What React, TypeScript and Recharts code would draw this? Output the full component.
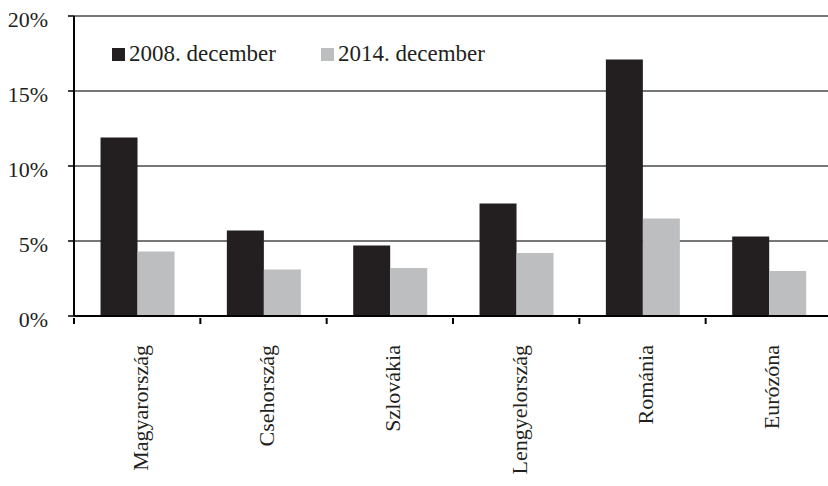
import React from "react";
import {
  BarChart,
  Bar,
  XAxis,
  YAxis,
  CartesianGrid,
} from "recharts";

const countries = [
  "Magyarország",
  "Csehország",
  "Szlovákia",
  "Lengyelország",
  "Románia",
  "Eurózóna",
];
const dec2008 = [11.9, 5.7, 4.7, 7.5, 17.1, 5.3];
const dec2014 = [4.3, 3.1, 3.2, 4.2, 6.5, 3.0];
const yTicks = [0, 5, 10, 15, 20];

const data = countries.map((name, i) => ({
  name,
  d2008: dec2008[i],
  d2014: dec2014[i],
}));

const FONT = "'Liberation Serif', 'DejaVu Serif', serif";
const DARK = "#231f20";
const LIGHT = "#bcbec0";

function XTick(props: any) {
  const { x, y, payload } = props;
  const half = payload && payload.offset ? payload.offset : 63;
  const ty = y + 27;
  return (
    <g>
      <line x1={x - half} x2={x - half} y1={y} y2={y + 6} stroke="#000" strokeWidth={2} />
      <text
        x={x + 3}
        y={ty}
        transform={`rotate(-90 ${x + 3} ${ty})`}
        textAnchor="end"
        dominantBaseline="central"
        fontFamily={FONT}
        fontSize={22}
        fill="#231f20"
      >
        {payload.value}
      </text>
    </g>
  );
}

// legend drawn as an overlay so it does not push the plot down
function LegendBox() {
  const items = [
    { label: "2008. december", color: DARK, x: 112 },
    { label: "2014. december", color: LIGHT, x: 321 },
  ];
  return (
    <>
      {items.map((it) => (
        <div
          key={it.label}
          style={{
            position: "absolute",
            left: it.x,
            top: 40,
            display: "flex",
            alignItems: "center",
            fontFamily: FONT,
            fontSize: 23,
            lineHeight: "28px",
            color: "#231f20",
            whiteSpace: "nowrap",
          }}
        >
          <span
            style={{
              display: "inline-block",
              width: 13,
              height: 13,
              background: it.color,
              marginRight: 4,
            }}
          />
          {it.label}
        </div>
      ))}
    </>
  );
}

export default function App() {
  return (
    <div
      style={{
        position: "absolute",
        left: 0,
        top: 0,
        width: 828,
        height: 486,
        overflow: "hidden",
        background: "#fff",
      }}
    >
      <BarChart
        width={840}
        height={486}
        data={data}
        margin={{ top: 16, right: 8, bottom: 0, left: 0 }}
        barCategoryGap="21%"
        barGap={0}
      >
        <CartesianGrid vertical={false} stroke="#4a4a4a" strokeWidth={1.5} />
        <XAxis
          dataKey="name"
          height={170}
          tickLine={false}
          tickSize={0}
          tick={<XTick />}
          axisLine={{ stroke: "#000", strokeWidth: 2 }}
          interval={0}
        />
        <YAxis
          width={74}
          domain={[0, 20]}
          ticks={yTicks}
          tickFormatter={(v) => `${v}%`}
          tickSize={6}
          tickMargin={20}
          tickLine={{ stroke: "#000", strokeWidth: 1.5 }}
          axisLine={{ stroke: "#000", strokeWidth: 2 }}
          tick={{ fontFamily: FONT, fontSize: 22, fill: "#231f20", dy: 3 }}
        />
        <Bar dataKey="d2008" name="2008. december" fill={DARK} isAnimationActive={false} />
        <Bar dataKey="d2014" name="2014. december" fill={LIGHT} isAnimationActive={false} />
      </BarChart>
      <LegendBox />
    </div>
  );
}
